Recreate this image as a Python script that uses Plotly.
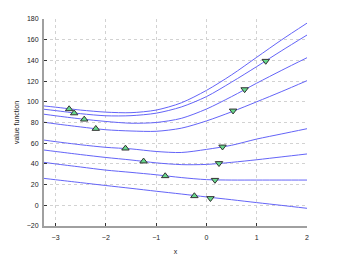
import plotly.graph_objects as go

xs = [-3.23, -3, -2.5, -2, -1.5, -1, -0.5, 0, 0.5, 1, 1.5, 2]
line1 = [96, 94.8, 92, 90, 89.5, 92, 99, 111, 126, 143, 160, 176]
line2 = [92.8, 91.5, 88.5, 86.5, 86.6, 89, 95, 105, 119, 134, 149.5, 164.5]
line3 = [88, 86.5, 83.5, 81, 79.3, 80, 84, 93, 105, 118, 130.5, 142.6]
line4 = [80.3, 78.7, 75.7, 73, 71.8, 71.5, 74.5, 81.5, 90.3, 100, 110, 120.4]
line5 = [63, 61.5, 58.5, 56, 54.5, 52, 51, 54, 58, 64, 69, 74]
line6 = [53.4, 52, 49, 46.2, 43.8, 41, 39.3, 39.5, 41.5, 44, 46.8, 49.6]
line7 = [41.5, 40, 37, 34, 31.8, 29.5, 26.8, 24.8, 24.4, 24.4, 24.4, 24.4]
line8 = [26, 24.7, 21.9, 19.1, 16.4, 13.6, 10.9, 8.1, 5.4, 2.6, -0.1, -2.9]

up_x = [-2.73, -2.63, -2.43, -2.2, -1.61, -1.25, -0.82, -0.24]
up_y = [93, 89, 83, 74, 55, 42.5, 28.3, 9]
down_x = [1.18, 0.76, 0.53, 0.32, 0.25, 0.17, 0.08]
down_y = [139.4, 112, 91.4, 56.6, 40.6, 24.4, 6.8]

x_ticks = [-3, -2, -1, 0, 1, 2]
y_ticks = [-20, 0, 20, 40, 60, 80, 100, 120, 140, 160, 180]

fig = go.Figure()
for ys in [line1, line2, line3, line4, line5, line6, line7, line8]:
    fig.add_trace(go.Scatter(x=xs, y=ys, mode="lines",
                             line=dict(color="#6464f8", width=1, shape="spline", smoothing=0.8),
                             showlegend=False, hoverinfo="skip"))

mk = dict(size=6.5, color="#66d98c", line=dict(color="#333333", width=1))
fig.add_trace(go.Scatter(x=up_x, y=up_y, mode="markers",
                         marker=dict(symbol="triangle-up", **mk), showlegend=False))
fig.add_trace(go.Scatter(x=down_x, y=down_y, mode="markers",
                         marker=dict(symbol="triangle-down", **mk), showlegend=False))

axis_common = dict(
    showgrid=True, gridcolor="#d2d2d2", griddash="dot", gridwidth=1,
    zeroline=False, showline=True, linecolor="#a0a0a0", linewidth=2,
    ticks="inside", ticklen=3, tickcolor="#333333", automargin=False,
    tickfont=dict(family="Liberation Sans", size=7, color="#222222"),
    title_font=dict(family="Liberation Sans", size=7, color="#222222"),
)
fig.update_xaxes(range=[-3.23, 2], tickvals=x_ticks, title_text="x",
                 title_standoff=10, ticklabelstandoff=4, **axis_common)
fig.update_yaxes(range=[-20, 180], tickvals=y_ticks, title_text="value function",
                 title_standoff=6, ticklabelstandoff=2, **axis_common)

fig.update_layout(
    width=339, height=255,
    margin=dict(l=44, r=32, t=19, b=29, autoexpand=False),
    plot_bgcolor="white", paper_bgcolor="white",
    font=dict(family="Liberation Sans", size=7),
)
fig.write_html("out.html", config={"displayModeBar": False},
               post_script="document.body.style.margin='0';document.body.style.padding='0';")
